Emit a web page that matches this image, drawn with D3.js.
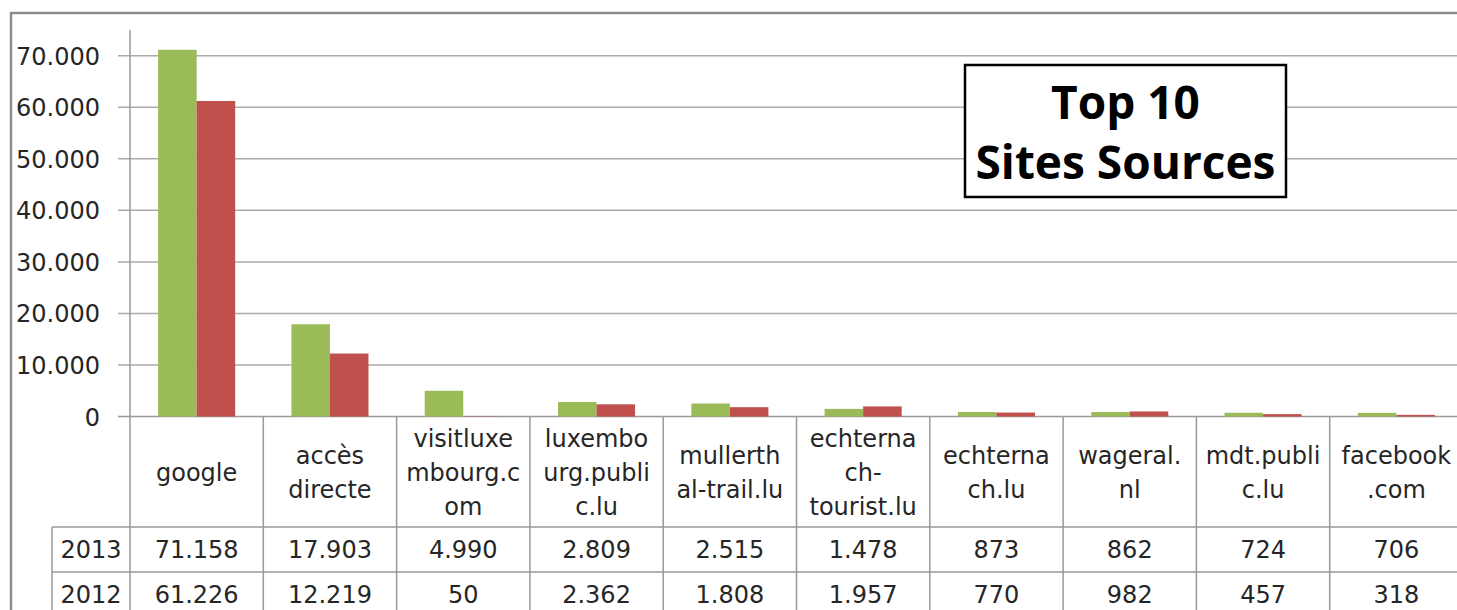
<!DOCTYPE html>
<html>
<head>
<meta charset="utf-8">
<script src="https://cdn.jsdelivr.net/npm/d3@7"></script>
<style>
  body { margin: 0; background: #fff; }
  svg { display: block; }
  text { font-family: "DejaVu Sans", sans-serif; fill: #262626; }
  text.title { font-family: "Open Sans", sans-serif; font-weight: bold; fill: #000; }
</style>
</head>
<body>
<svg id="chart"></svg>
<script>
// data
const categories = ["google", "accès\ndirecte", "visitluxe\nmbourg.c\nom", "luxembo\nurg.publi\nc.lu",
  "mullerth\nal-trail.lu", "echterna\nch-\ntourist.lu", "echterna\nch.lu", "wageral.\nnl",
  "mdt.publi\nc.lu", "facebook\n.com"];
const years = ["2013", "2012"];
const values2013 = [71158, 17903, 4990, 2809, 2515, 1478, 873, 862, 724, 706];
const values2012 = [61226, 12219, 50, 2362, 1808, 1957, 770, 982, 457, 318];
const yTicks = [0, 10000, 20000, 30000, 40000, 50000, 60000, 70000];
const titleLines = ["Top 10", "Sites Sources"];

const width = 1457, height = 610;
const colors = { "2013": "#9bbb59", "2012": "#c0504d" };
const series = { "2013": values2013, "2012": values2012 };

const svg = d3.select("#chart")
    .attr("width", width)
    .attr("height", height);

const fmt = d3.formatLocale({ decimal: ",", thousands: ".", grouping: [3], currency: ["", ""] }).format(",d");

const plotLeft = 130, plotTop = 30, zeroY = 416.5;
const step = 133.3;

const x = d3.scaleBand()
    .domain(d3.range(categories.length))
    .range([plotLeft, plotLeft + step * categories.length]);

const x1 = d3.scaleBand()
    .domain(years)
    .range([0, x.bandwidth()])
    .paddingOuter(0.73);

const y = d3.scaleLinear()
    .domain([0, 75000])
    .range([zeroY, plotTop]);

// outer frame (runs off the right and bottom)
svg.append("rect")
    .attr("x", 11).attr("y", 13)
    .attr("width", width + 40).attr("height", height + 40)
    .attr("fill", "none")
    .attr("stroke", "#8c8c8c")
    .attr("stroke-width", 2.5);

// gridlines + ticks
const grid = svg.append("g");
grid.selectAll("line.grid")
  .data(yTicks)
  .enter().append("line")
    .attr("class", "grid")
    .attr("x1", 118).attr("x2", width)
    .attr("y1", d => y(d)).attr("y2", d => y(d))
    .attr("stroke", d => d === 0 ? "#999" : "#aaa")
    .attr("stroke-width", 1.5);

grid.selectAll("text")
  .data(yTicks)
  .enter().append("text")
    .attr("x", 100)
    .attr("y", d => y(d) + 9)
    .attr("text-anchor", "end")
    .attr("font-size", 24)
    .text(d => fmt(d));

// y axis line
svg.append("line")
    .attr("x1", plotLeft).attr("x2", plotLeft)
    .attr("y1", plotTop).attr("y2", zeroY)
    .attr("stroke", "#999")
    .attr("stroke-width", 1.5);

// bars
const groups = svg.append("g").selectAll("g")
  .data(categories.map((c, i) => i))
  .enter().append("g")
    .attr("transform", i => `translate(${x(i)},0)`);

groups.selectAll("rect")
  .data(i => years.map(yr => ({ yr: yr, v: series[yr][i] })))
  .enter().append("rect")
    .attr("x", d => x1(d.yr))
    .attr("width", x1.bandwidth())
    .attr("y", d => y(d.v))
    .attr("height", d => zeroY - y(d.v))
    .attr("fill", d => colors[d.yr]);

// title box
const box = svg.append("g");
box.append("rect")
    .attr("x", 965).attr("y", 65)
    .attr("width", 321).attr("height", 132)
    .attr("fill", "#fff")
    .attr("stroke", "#000")
    .attr("stroke-width", 2.5);
box.selectAll("text")
  .data(titleLines)
  .enter().append("text")
    .attr("class", "title")
    .attr("x", 1125.5)
    .attr("y", (d, i) => 119 + i * 60)
    .attr("text-anchor", "middle")
    .attr("font-size", 46)
    .text(d => d);

// data table
const headTop = zeroY, headBottom = 527, rowH = 45;
const tableRight = plotLeft + step * categories.length;
const table = svg.append("g");

// vertical cell borders
table.selectAll("line.v")
  .data(d3.range(categories.length + 1))
  .enter().append("line")
    .attr("class", "v")
    .attr("x1", i => plotLeft + i * step).attr("x2", i => plotLeft + i * step)
    .attr("y1", headTop).attr("y2", height)
    .attr("stroke", "#999")
    .attr("stroke-width", 1.5);

table.append("line")
    .attr("x1", 52).attr("x2", 52)
    .attr("y1", headBottom).attr("y2", height)
    .attr("stroke", "#999")
    .attr("stroke-width", 1.5);

table.selectAll("line.h")
  .data(years)
  .enter().append("line")
    .attr("class", "h")
    .attr("x1", 52).attr("x2", tableRight)
    .attr("y1", (d, i) => headBottom + i * rowH)
    .attr("y2", (d, i) => headBottom + i * rowH)
    .attr("stroke", "#999")
    .attr("stroke-width", 1.5);

// category headers
const headMid = (headTop + headBottom) / 2;
table.selectAll("text.cat")
  .data(categories)
  .enter().append("text")
    .attr("class", "cat")
    .attr("text-anchor", "middle")
    .attr("font-size", 24)
    .each(function(d, i) {
      const lines = d.split("\n");
      d3.select(this).selectAll("tspan")
        .data(lines)
        .enter().append("tspan")
          .attr("x", x(i) + x.bandwidth() / 2)
          .attr("y", (l, j) => headMid + (j - (lines.length - 1) / 2) * 34 + 9)
          .text(l => l);
    });

// value rows
years.forEach((yr, r) => {
  const base = headBottom + r * rowH + rowH / 2 + 8;
  table.append("text")
      .attr("x", 91)
      .attr("y", base)
      .attr("text-anchor", "middle")
      .attr("font-size", 24)
      .text(yr);
  table.selectAll("text.val" + yr)
    .data(series[yr])
    .enter().append("text")
      .attr("class", "val" + yr)
      .attr("x", (d, i) => x(i) + x.bandwidth() / 2)
      .attr("y", base)
      .attr("text-anchor", "middle")
      .attr("font-size", 24)
      .text(d => fmt(d));
});
</script>
</body>
</html>
